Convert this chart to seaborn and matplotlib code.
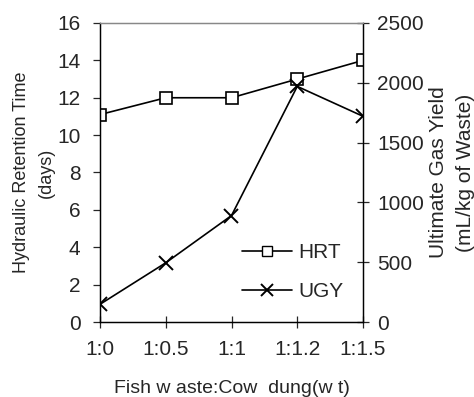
import pandas as pd
import matplotlib.pyplot as plt
import seaborn as sns
from matplotlib.lines import Line2D

ratios = ["1:0", "1:0.5", "1:1", "1:1.2", "1:1.5"]
hrt = [11.1, 12, 12, 13, 14]
ugy = [148, 495, 890, 1970, 1720]

df = pd.DataFrame({"pos": range(len(ratios)), "ratio": ratios, "HRT": hrt, "UGY": ugy})

sns.set_style("white")
plt.rcParams['font.family'] = ['Liberation Sans', 'DejaVu Sans']
plt.rcParams['font.size'] = 15

fig = plt.figure(figsize=(4.74, 3.97), dpi=100)
ax = fig.add_axes([100/474, 1 - 322/397, 263/474, 299/397])
ax2 = ax.twinx()

sns.lineplot(data=df, x="pos", y="HRT", ax=ax, color="black", lw=1.2,
             marker="s", markersize=9, markerfacecolor="white",
             markeredgecolor="black", markeredgewidth=1.2)
sns.lineplot(data=df, x="pos", y="UGY", ax=ax2, color="black", lw=1.2,
             marker="x", markersize=10, markeredgecolor="black",
             markeredgewidth=1.4)

ax.set_xlim(0, len(ratios) - 1)
ax.set_ylim(0, 16)
ax.set_yticks(range(0, 17, 2))
ax2.set_ylim(0, 2500)
ax2.set_yticks(range(0, 2501, 500))
ax.set_xticks(df["pos"])
ax.set_xticklabels(ratios)

ax.set_xlabel("Fish w aste:Cow  dung(w t)", fontsize=14, labelpad=15)
ax.set_ylabel("Hydraulic Retention Time\n(days)", fontsize=13, labelpad=1.5,
              linespacing=1.6)
ax2.set_ylabel("Ultimate Gas Yield\n(mL/kg of Waste)", fontsize=15, labelpad=4,
               linespacing=1.5)

for a in (ax, ax2):
    for s in a.spines.values():
        s.set_color("black")
        s.set_linewidth(0.9)
ax.spines["top"].set_color("#888888")
ax2.spines["top"].set_color("#888888")

ax.tick_params(axis="y", direction="out", length=5, width=0.9, left=True, labelsize=15, pad=9)
ax.tick_params(axis="x", direction="inout", length=8, width=0.9, bottom=True, labelsize=15, pad=9)
ax2.tick_params(axis="y", direction="inout", length=8, width=0.9, right=True, labelsize=15, pad=6)

handles = [
    Line2D([], [], color="black", lw=1.2, marker="s", markersize=7,
           markerfacecolor="white", markeredgecolor="black"),
    Line2D([], [], color="black", lw=1.2, marker="x", markersize=9,
           markeredgewidth=1.4),
]
ax.legend(handles, ["HRT", "UGY"], frameon=False, fontsize=15,
          loc="lower left", bbox_to_anchor=(0.47, 0.007), handlelength=2.4,
          handletextpad=0.3, labelspacing=0.95)

fig.savefig("out.png", dpi=100)
